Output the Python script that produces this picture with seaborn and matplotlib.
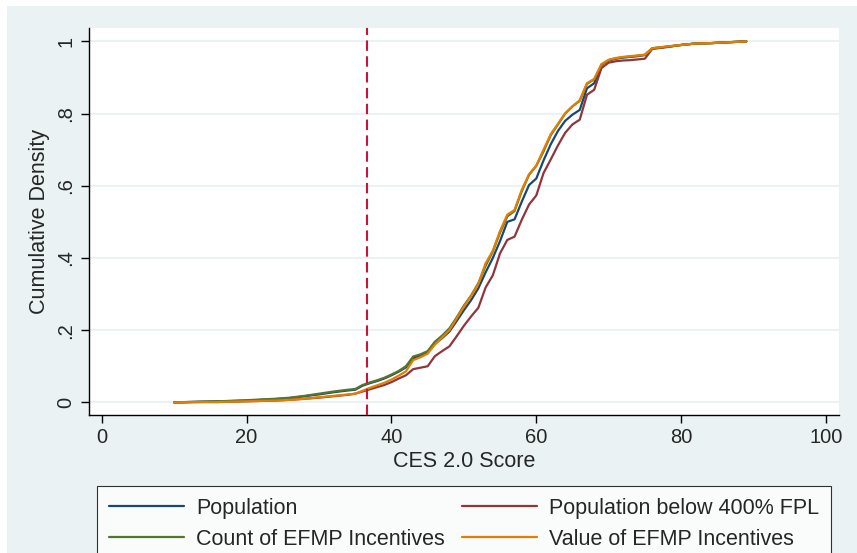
import numpy as np
import pandas as pd
import seaborn as sns
import matplotlib
matplotlib.use("Agg")
import matplotlib.pyplot as plt
from matplotlib.patches import Rectangle

# CES 2.0 score grid
ces = [10, 12, 14, 16, 18, 20, 22, 24, 26, 28, 30, 32, 34, 35, 36, 37, 38, 39, 40,
       41, 42, 43, 44, 45, 46, 47, 48, 49, 50, 51, 52, 53, 54, 55, 56, 57, 58, 59,
       60, 61, 62, 63, 64, 65, 66, 67, 68, 69, 70, 71, 72, 73, 74, 75, 76, 78, 80,
       82, 84, 86, 89]

population = [0, 0.001, 0.002, 0.003, 0.004, 0.005, 0.007, 0.009, 0.012, 0.017, 0.022,
              0.028, 0.033, 0.035, 0.046, 0.053, 0.059, 0.066, 0.075, 0.085, 0.097,
              0.122, 0.129, 0.138, 0.162, 0.178, 0.196, 0.225, 0.255, 0.283, 0.316,
              0.360, 0.400, 0.447, 0.500, 0.507, 0.556, 0.602, 0.620, 0.670, 0.715,
              0.752, 0.780, 0.797, 0.810, 0.870, 0.884, 0.935, 0.947, 0.952, 0.955,
              0.957, 0.959, 0.962, 0.980, 0.985, 0.990, 0.994, 0.995, 0.997, 1.0]

pop_below_400 = [0, 0.0005, 0.001, 0.001, 0.002, 0.003, 0.004, 0.005, 0.007, 0.010, 0.013,
                 0.017, 0.021, 0.024, 0.030, 0.036, 0.042, 0.048, 0.056, 0.066, 0.075,
                 0.092, 0.096, 0.100, 0.128, 0.142, 0.155, 0.183, 0.212, 0.238, 0.262,
                 0.318, 0.352, 0.413, 0.450, 0.459, 0.506, 0.548, 0.573, 0.635, 0.673,
                 0.712, 0.747, 0.770, 0.783, 0.852, 0.866, 0.926, 0.941, 0.945, 0.947,
                 0.948, 0.950, 0.952, 0.979, 0.984, 0.990, 0.994, 0.995, 0.997, 1.0]

count_efmp = [0, 0.001, 0.002, 0.003, 0.004, 0.006, 0.008, 0.010, 0.013, 0.018, 0.024,
              0.030, 0.035, 0.037, 0.048, 0.055, 0.061, 0.068, 0.077, 0.087, 0.100,
              0.127, 0.133, 0.142, 0.168, 0.185, 0.205, 0.235, 0.268, 0.296, 0.330,
              0.378, 0.418, 0.470, 0.515, 0.530, 0.585, 0.630, 0.655, 0.695, 0.740,
              0.770, 0.800, 0.820, 0.835, 0.882, 0.895, 0.935, 0.948, 0.953, 0.956,
              0.958, 0.960, 0.963, 0.981, 0.985, 0.990, 0.994, 0.995, 0.997, 1.0]

value_efmp = [0, 0.0005, 0.001, 0.001, 0.002, 0.003, 0.004, 0.005, 0.007, 0.010, 0.014,
              0.018, 0.022, 0.024, 0.032, 0.040, 0.047, 0.054, 0.063, 0.074, 0.086,
              0.117, 0.125, 0.135, 0.160, 0.180, 0.200, 0.232, 0.265, 0.295, 0.328,
              0.385, 0.420, 0.475, 0.520, 0.533, 0.589, 0.632, 0.656, 0.700, 0.743,
              0.772, 0.801, 0.820, 0.837, 0.884, 0.896, 0.937, 0.949, 0.954, 0.957,
              0.959, 0.961, 0.963, 0.981, 0.986, 0.990, 0.994, 0.995, 0.997, 1.0]

series_names = ["Population", "Population below 400% FPL",
                "Count of EFMP Incentives", "Value of EFMP Incentives"]
series_values = [population, pop_below_400, count_efmp, value_efmp]
colors = ["#1a476f", "#90353b", "#55752f", "#e37e00"]

threshold = 36.6
xticks = [0, 20, 40, 60, 80, 100]
yticks = [0, 0.2, 0.4, 0.6, 0.8, 1.0]
ytick_labels = ["0", ".2", ".4", ".6", ".8", "1"]

df = pd.concat([pd.DataFrame({"CES": ces, "Cumulative Density": v, "Series": n})
                for n, v in zip(series_names, series_values)], ignore_index=True)

sns.set_style("white")
plt.rcParams["font.family"] = ["Liberation Sans", "DejaVu Sans"]

W, H = 857, 553
fig = plt.figure(figsize=(W / 100, H / 100), dpi=100, facecolor="white")
fig.patches.append(Rectangle((7 / W, 0), 1 - 7 / W, 1 - 6 / H, transform=fig.transFigure,
                             facecolor="#eaf2f3", edgecolor="none", zorder=-10))
ax = fig.add_axes([88.7 / W, 1 - 415 / H, (839 - 88.7) / W, (415 - 28) / H])
ax.set_facecolor("white")

sns.lineplot(data=df, x="CES", y="Cumulative Density", hue="Series",
             hue_order=series_names, palette=colors, linewidth=1.6, ax=ax,
             legend=False, sort=False)

ax.axvline(threshold, color="#c8143c", linewidth=1.5, dashes=(5, 2.6), zorder=5)

ax.set_xlim(-1.8, 101.8)
ax.set_ylim(-0.035, 1.037)
ax.set_xticks(xticks)
ax.set_yticks(yticks)
ax.set_yticklabels(ytick_labels, rotation=90, va="center")
ax.tick_params(axis="both", direction="out", length=5.5, width=1, color="black",
               labelsize=14.5, left=True, bottom=True, pad=4)
ax.yaxis.grid(True, color="#eaf2f3", linewidth=1.5)
ax.xaxis.grid(False)
ax.set_axisbelow(True)
for s in ["top", "right"]:
    ax.spines[s].set_visible(False)
for s in ["left", "bottom"]:
    ax.spines[s].set_color("black")
    ax.spines[s].set_linewidth(1.0)

ax.set_xlabel("CES 2.0 Score", fontsize=15.5, labelpad=3)
ax.set_ylabel("Cumulative Density", fontsize=15.5, labelpad=5)

lines = ax.get_lines()[:4]
# column-major fill so rows read: Population | below 400% ; Count | Value
order = [0, 2, 1, 3]
leg = fig.legend([lines[i] for i in order], [series_names[i] for i in order],
                 loc="upper left",
                 bbox_to_anchor=(97 / W, 1 - 486 / H, (831 - 97) / W, 0),
                 mode="expand", ncol=2, fontsize=15.5, frameon=True, fancybox=False,
                 edgecolor="black", handlelength=3.5, handletextpad=0.55,
                 labelspacing=0.45, borderpad=0.55, borderaxespad=0, columnspacing=1.0)
leg.get_frame().set_linewidth(0.8)
leg.get_frame().set_facecolor("white")

fig.savefig("out.png", dpi=100, facecolor=fig.get_facecolor())
